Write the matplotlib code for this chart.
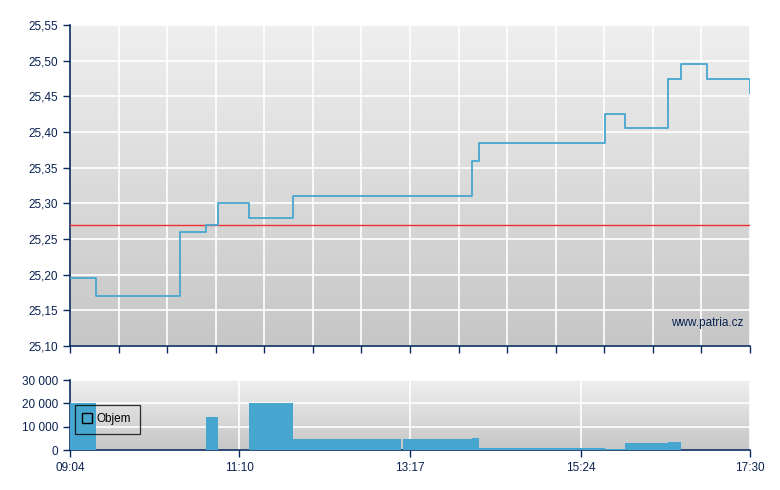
import numpy as np
import matplotlib
matplotlib.use("Agg")
import matplotlib.pyplot as plt
from matplotlib.lines import Line2D
from matplotlib.ticker import FuncFormatter, FixedLocator
from matplotlib.colors import LinearSegmentedColormap

plt.rcParams['font.family'] = ['Liberation Sans', 'DejaVu Sans']

# ---- data ----
price_times = ["09:04", "09:23", "10:26", "10:45", "10:54", "11:17", "11:50",
               "14:03", "14:08", "15:42", "15:57", "16:29", "16:39", "16:58", "17:30"]
price_values = [25.195, 25.17, 25.26, 25.27, 25.30, 25.28, 25.31,
                25.36, 25.385, 25.425, 25.405, 25.475, 25.495, 25.475, 25.455]
ref_price = 25.27

vol_start = ["09:04", "10:45", "11:17", "11:50", "13:12", "14:03", "14:08", "15:42", "15:57", "16:29"]
vol_end = ["09:23", "10:54", "11:50", "13:10", "14:03", "14:08", "15:42", "15:57", "16:29", "16:39"]
vol_values = [20000, 14000, 20000, 4700, 4700, 5300, 1000, 400, 3100, 3600]

x_labels = ["09:04", "11:10", "13:17", "15:24", "17:30"]
price_ticks = [25.10, 25.15, 25.20, 25.25, 25.30, 25.35, 25.40, 25.45, 25.50, 25.55]
vol_ticks = [0, 10000, 20000, 30000]

T0 = "09:04"
T1 = "17:30"


def tmin(s):
    h, m = map(int, s.split(":"))
    h0, m0 = map(int, T0.split(":"))
    return h * 60 + m - (h0 * 60 + m0)


navy = "#0a2150"
spine_c = "#082a5e"
blue = "#46a6cf"
W, H = 780, 490

fig = plt.figure(figsize=(W / 100, H / 100), dpi=100)
fig.patch.set_facecolor("white")

ax1 = fig.add_axes([70 / W, 1 - 346 / H, 680 / W, 321 / H])
ax2 = fig.add_axes([70 / W, 1 - 450 / H, 680 / W, 70 / H])

xmax = tmin(T1)
cmap = LinearSegmentedColormap.from_list("g", ["#efefef", "#c6c6c6"])


def gradient(ax):
    grad = np.linspace(0, 1, 256).reshape(-1, 1)
    ax.imshow(grad, extent=[0, 1, 0, 1], origin="upper", transform=ax.transAxes,
              aspect="auto", cmap=cmap, zorder=0, interpolation="bicubic")


for ax in (ax1, ax2):
    gradient(ax)
    for s in ("top", "right"):
        ax.spines[s].set_visible(False)
    for s in ("left", "bottom"):
        ax.spines[s].set_color(spine_c)
        ax.spines[s].set_linewidth(1.2)
    ax.tick_params(colors=spine_c, labelcolor=navy, labelsize=8.5, length=5, width=1, direction="out")
    ax.set_xlim(0, xmax)

# ---- price chart ----
px = [tmin(t) for t in price_times]
ax1.set_ylim(price_ticks[0], price_ticks[-1])
ax1.yaxis.set_major_locator(FixedLocator(price_ticks))
ax1.yaxis.set_major_formatter(FuncFormatter(lambda v, p: f"{v:.2f}".replace(".", ",")))
vgrid = np.linspace(0, xmax, 15)
ax1.xaxis.set_major_locator(FixedLocator(vgrid))
ax1.set_xticklabels([])
ax1.grid(True, color="white", linewidth=1.2, zorder=1)
ax1.set_axisbelow(True)
ax1.axhline(ref_price, color="#f03030", linewidth=1.0, zorder=3)
ax1.step(px, price_values, where="post", color=blue, linewidth=1.3, zorder=4)
ax1.text(673 / 680, (346 - 323) / 321, "www.patria.cz", transform=ax1.transAxes,
         ha="right", va="center", fontsize=8.5, color=navy, zorder=5)

# ---- volume chart ----
vs = [tmin(t) for t in vol_start]
ve = [tmin(t) for t in vol_end]
widths = [e - s for s, e in zip(vs, ve)]
ax2.set_ylim(0, 30000)
ax2.yaxis.set_major_locator(FixedLocator(vol_ticks))
ax2.yaxis.set_major_formatter(FuncFormatter(lambda v, p: f"{int(v):,}".replace(",", " ")))
xt = [tmin(t) for t in x_labels]
ax2.xaxis.set_major_locator(FixedLocator(xt))
ax2.set_xticklabels(x_labels)
ax2.grid(True, color="white", linewidth=1.2, zorder=1)
ax2.set_axisbelow(True)
ax2.bar(vs, vol_values, width=widths, align="edge", color=blue, linewidth=0, zorder=3)

handle = Line2D([], [], linestyle="none", marker="s", markersize=7, markerfacecolor="none",
                markeredgecolor="black", markeredgewidth=1)
leg = ax2.legend([handle], ["Objem"], loc="upper left", bbox_to_anchor=(5 / 680, (450 - 405) / 70),
                 frameon=True, fancybox=False, fontsize=8.5, handlelength=0.6, handletextpad=0.55,
                 borderpad=0.7, borderaxespad=0)
leg.get_frame().set_facecolor("none")
leg.get_frame().set_edgecolor("black")
leg.get_frame().set_linewidth(0.9)

fig.savefig("out.png", dpi=100)
